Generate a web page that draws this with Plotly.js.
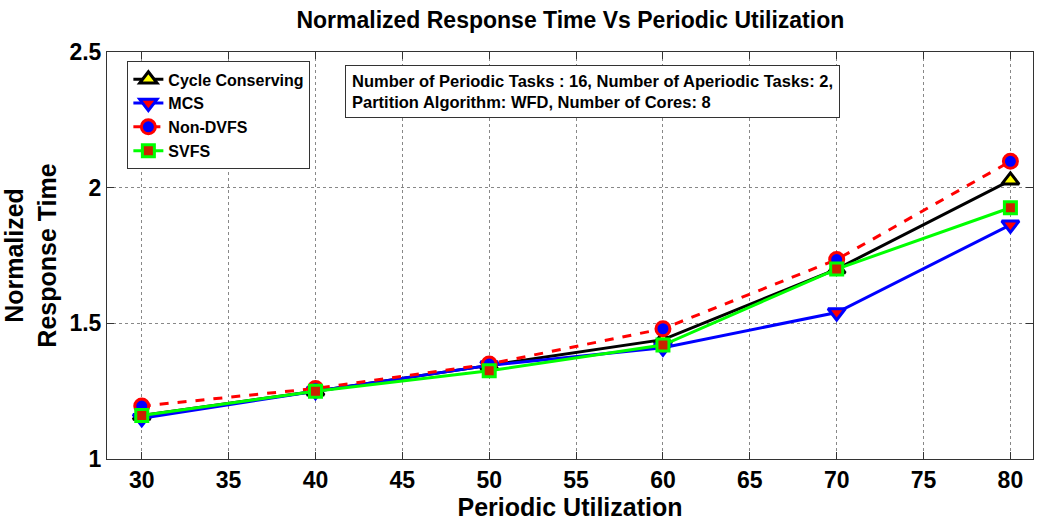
<!DOCTYPE html>
<html><head><meta charset="utf-8">
<script src="https://cdn.plot.ly/plotly-3.0.1.min.js"></script>
<style>body{margin:0;background:#fff}#c{width:1037px;height:524px}</style>
</head><body><div id="c"></div>
<script>
const utilization = [30, 40, 50, 60, 70, 80];
const cycleConserving = [1.16, 1.25, 1.345, 1.44, 1.70, 2.027];
const mcs = [1.15, 1.25, 1.345, 1.41, 1.54, 1.863];
const nonDVFS = [1.195, 1.26, 1.35, 1.48, 1.735, 2.097];
const svfs = [1.16, 1.25, 1.325, 1.42, 1.70, 1.926];
const xTicks = [30, 35, 40, 45, 50, 55, 60, 65, 70, 75, 80];
const yTicks = [1, 1.5, 2, 2.5];
const yTickText = ['1', '1.5', '2', '2.5'];

const F = 'Liberation Sans, Arial, sans-serif';
const traces = [
  {x: utilization, y: cycleConserving, name: 'Cycle Conserving', mode: 'lines+markers',
   line: {color: '#000000', width: 3},
   marker: {symbol: 'triangle-up', size: 15, color: '#ffff00', line: {color: '#000000', width: 3}}},
  {x: utilization, y: mcs, name: 'MCS', mode: 'lines+markers',
   line: {color: '#0000ff', width: 3},
   marker: {symbol: 'triangle-down', size: 15, color: '#ff0000', line: {color: '#0000ff', width: 3}}},
  {x: utilization, y: nonDVFS, name: 'Non-DVFS', mode: 'lines+markers',
   line: {color: '#ff0000', width: 3, dash: 'dash'},
   marker: {symbol: 'circle', size: 14, color: '#0000ff', line: {color: '#ff0000', width: 3}}},
  {x: utilization, y: svfs, name: 'SVFS', mode: 'lines+markers',
   line: {color: '#00ff00', width: 3},
   marker: {symbol: 'square', size: 12, color: '#cc2200', line: {color: '#00ff00', width: 3}}}
];

const layout = {
  width: 1037, height: 524,
  margin: {l: 107, r: 4, t: 52, b: 65},
  paper_bgcolor: '#ffffff', plot_bgcolor: '#ffffff',
  font: {family: F, color: '#000'},
  title: {text: '<b>Normalized Response Time Vs Periodic Utilization</b>', font: {size: 23, family: F},
          x: 0.55, xanchor: 'center', y: 0.962, yanchor: 'middle'},
  xaxis: {
    range: [28, 81.3], tickvals: xTicks, ticktext: xTicks.map(String),
    ticks: 'inside', ticklen: 7, tickcolor: '#333', mirror: 'ticks',
    showline: true, linecolor: '#333', linewidth: 1,
    showgrid: true, gridcolor: '#888', griddash: 'dot', gridwidth: 1,
    zeroline: false,
    tickfont: {size: 23, family: F, weight: 'bold'},
    title: {text: '<b>Periodic Utilization</b>', font: {size: 25, family: F}, standoff: 4}
  },
  yaxis: {
    range: [1, 2.5], tickvals: yTicks, ticktext: yTickText,
    ticks: 'inside', ticklen: 7, tickcolor: '#333', mirror: 'ticks',
    showline: true, linecolor: '#333', linewidth: 1,
    showgrid: true, gridcolor: '#888', griddash: 'dot', gridwidth: 1,
    zeroline: false,
    tickfont: {size: 23, family: F, weight: 'bold'},
    title: {text: '<b>Normalized<br>Response Time</b>', font: {size: 25, family: F}, standoff: 12}
  },
  legend: {
    x: 0.022, y: 0.977, xanchor: 'left', yanchor: 'top',
    bgcolor: '#ffffff', bordercolor: '#333', borderwidth: 1,
    font: {size: 16, family: F, weight: 'bold'},
    tracegroupgap: 0, itemwidth: 30
  },
  annotations: [{
    xref: 'paper', yref: 'paper', x: 0.257, y: 0.968, xanchor: 'left', yanchor: 'top',
    text: 'Number of Periodic Tasks : 16, Number of Aperiodic Tasks: 2,<br>Partition Algorithm: WFD, Number of Cores: 8',
    showarrow: false, align: 'left', font: {size: 16.5, family: F, weight: 'bold'},
    bgcolor: '#ffffff', bordercolor: '#333', borderwidth: 1, borderpad: 6
  }],
  showlegend: true
};
Plotly.newPlot('c', traces, layout, {displayModeBar: false});
</script></body></html>
